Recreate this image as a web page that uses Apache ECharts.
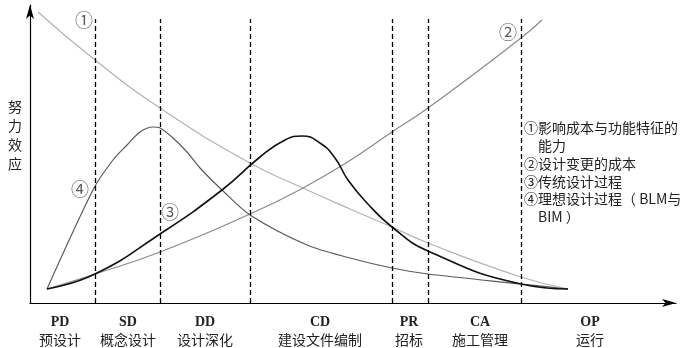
<!DOCTYPE html>
<html>
<head>
<meta charset="utf-8">
<script src="https://cdn.jsdelivr.net/npm/echarts@6/dist/echarts.min.js"></script>
<style>
html,body{margin:0;padding:0;background:#fff;}
#chart{width:696px;height:348px;}
</style>
</head>
<body>
<div id="chart"></div>
<script>
// Stage categories along the project timeline
const stageCodes = ['PD', 'SD', 'DD', 'CD', 'PR', 'CA', 'OP'];
const stageNames = ['预设计', '概念设计', '设计深化', '建设文件编制', '招标', '施工管理', '运行'];
const stageCenters = [30, 98, 175, 290, 379, 450, 560];
const phaseBounds = [65, 130, 220, 362, 398, 491];
const phaseTop = 284;

// Curves [x, y] in chart units
const curve1 = [[8,291],[65,243],[130,195],[220,140],[273,115],[320,94],[362,76],[398,60],[491,26],[538,14]];
const curve2 = [[17,14],[65,29],[130,51],[220,89],[273,115],[316,140],[362,171],[398,195],[491,265],[512,283]];
const curve3 = [[17,14],[65,29],[130,69],[192,113],[230,146],[255,163],[272,167],[290,160],[305,145],[318,123],[337,100],[362,76],[398,52],[491,19],[538,14]];
const curve4 = [[17,14],[64,115],[83,143],[97,158],[110,171],[123,176],[130,175],[143,165],[157,151],[170,135],[192,113],[220,88],[277,58],[320,45],[362,35],[398,29],[491,19],[538,14]];

const curveMarks = [[54,283,'①'],[478,271,'②'],[140,91,'③'],[50,114,'④']];
const legendLines = ['①影响成本与功能特征的', '\u3000能力', '②设计变更的成本', '③传统设计过程', '④理想设计过程（ BLM与', '\u3000BIM ）'];
const yTitle = '努力效应';

const cjk = '"Noto Sans CJK SC", sans-serif';
const serif = '"Liberation Serif", "Noto Sans CJK SC", serif';

const chart = echarts.init(document.getElementById('chart'), null, {renderer: 'canvas'});

const markLineData = phaseBounds.map(x => [{coord: [x, 0]}, {coord: [x, phaseTop]}]);

const lineBase = {type: 'line', smooth: 0.5, symbol: 'none'};

const option = {
  animation: false,
  backgroundColor: '#fff',
  grid: {left: 30, right: 20, top: 5, bottom: 45},
  xAxis: {
    type: 'value', min: 0, max: 646,
    splitLine: {show: false},
    axisTick: {show: false},
    axisLine: {show: true, symbol: ['none', 'arrow'], symbolSize: [6, 14],
      lineStyle: {color: '#000', width: 1.2}},
    axisLabel: {
      customValues: stageCenters,
      margin: 10,
      formatter: function (v) {
        const i = stageCenters.indexOf(v);
        return i < 0 ? '' : '{a|' + stageCodes[i] + '}\n{b|' + stageNames[i] + '}';
      },
      rich: {
        a: {fontFamily: serif, fontSize: 14, color: '#222', lineHeight: 18, fontWeight: 'bold'},
        b: {fontFamily: cjk, fontSize: 14, color: '#222', lineHeight: 18}
      }
    }
  },
  yAxis: {
    type: 'value', min: 0, max: 298,
    splitLine: {show: false},
    axisTick: {show: false},
    axisLabel: {show: false},
    axisLine: {show: true, symbol: ['none', 'arrow'], symbolSize: [6, 14],
      lineStyle: {color: '#000', width: 1.2}}
  },
  series: [
    Object.assign({}, lineBase, {data: curve1, lineStyle: {color: '#b2b2b2', width: 1.2}, z: 2}),
    Object.assign({}, lineBase, {data: curve2, lineStyle: {color: '#8a8a8a', width: 1.2}, z: 2}),
    Object.assign({}, lineBase, {data: curve3, lineStyle: {color: '#111', width: 1.6}, z: 4}),
    Object.assign({}, lineBase, {data: curve4, smooth: 0.3, lineStyle: {color: '#5a5a5a', width: 1.2}, z: 3,
      markLine: {
        silent: true, symbol: ['none', 'none'], label: {show: false},
        lineStyle: {color: '#000', width: 1.3, type: [5, 3]},
        data: markLineData
      }
    }),
    {type: 'scatter', data: curveMarks, symbolSize: 0, z: 5,
      label: {show: true, position: 'inside', formatter: p => p.value[2],
        fontFamily: cjk, fontSize: 18, color: '#333'}}
  ],
  graphic: [
    {type: 'text', left: 524, top: 119,
      style: {text: legendLines.join('\n'), font: '14px ' + cjk, lineHeight: 17.8, fill: '#222'}},
    {type: 'text', left: 8, top: 97,
      style: {text: yTitle.split('').join('\n'), font: '14px ' + cjk, lineHeight: 19, fill: '#222'}}
  ]
};
chart.setOption(option);
</script>
</body>
</html>
